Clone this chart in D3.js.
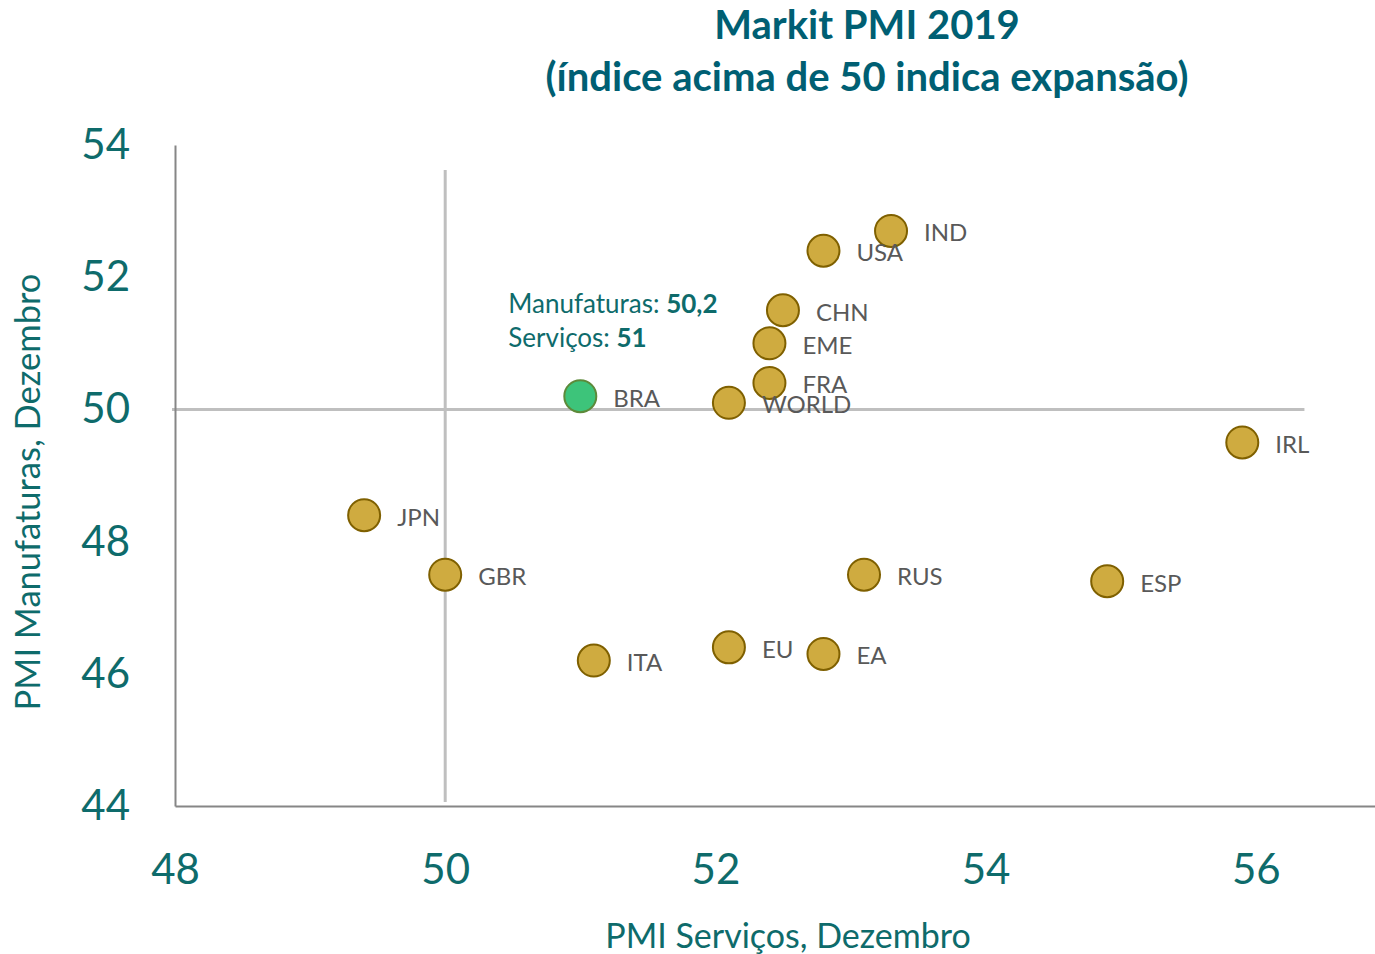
<!DOCTYPE html>
<html>
<head>
<meta charset="utf-8">
<script src="https://cdn.jsdelivr.net/npm/d3@7"></script>
<style>
  body { margin: 0; background: #fff; }
  text { font-family: Lato, "Open Sans", sans-serif; }
</style>
</head>
<body>
<script>
// data
const countries = ["IND", "USA", "CHN", "EME", "FRA", "WORLD", "BRA", "IRL", "JPN", "GBR", "RUS", "ESP", "ITA", "EU", "EA"];
const servicos  = [53.3, 52.8, 52.5, 52.4, 52.4, 52.1, 51.0, 55.9, 49.4, 50.0, 53.1, 54.9, 51.1, 52.1, 52.8];
const manufat   = [52.7, 52.4, 51.5, 51.0, 50.4, 50.1, 50.2, 49.5, 48.4, 47.5, 47.5, 47.4, 46.2, 46.4, 46.3];
const xTicks = [48, 50, 52, 54, 56];
const yTicks = [44, 46, 48, 50, 52, 54];

const data = countries.map((c, i) => ({name: c, x: servicos[i], y: manufat[i]}));

const width = 1375, height = 954;
const margin = {left: 175, right: 0, top: 145, bottom: 148};
const w = width - margin.left - margin.right;
const h = height - margin.top - margin.bottom;

const svg = d3.select("body").append("svg")
    .attr("width", width)
    .attr("height", height);

const g = svg.append("g")
    .attr("transform", "translate(" + margin.left + "," + margin.top + ")");

const x = d3.scaleLinear()
    .domain([48, 48 + w / 135.1])
    .range([0, w]);

const y = d3.scaleLinear()
    .domain([44, 54])
    .range([h, 0]);

// reference lines at 50
g.append("line")
    .attr("x1", x(50)).attr("x2", x(50))
    .attr("y1", 25).attr("y2", h - 4)
    .attr("stroke", "#bfbfbf").attr("stroke-width", 3);

g.append("line")
    .attr("x1", -3).attr("x2", x(56.36))
    .attr("y1", y(50)).attr("y2", y(50))
    .attr("stroke", "#bfbfbf").attr("stroke-width", 3);

// axes
const bottomAxis = d3.axisBottom(x).tickValues(xTicks).tickSize(0).tickPadding(48);
const leftAxis = d3.axisLeft(y).tickValues(yTicks).tickSize(0).tickPadding(45);

const gx = g.append("g")
    .attr("transform", "translate(0," + h + ")")
    .call(bottomAxis);
const gy = g.append("g").call(leftAxis);

[gx, gy].forEach(a => {
    a.select(".domain").attr("stroke", "#868686").attr("stroke-width", 2);
    a.selectAll("text")
        .attr("font-size", "42px")
        .attr("fill", "#0e6b6b")
        .style("font-family", "Lato, 'Open Sans', sans-serif");
});

// points
g.selectAll("circle")
    .data(data)
    .enter()
    .append("circle")
        .attr("cx", d => x(d.x))
        .attr("cy", d => y(d.y))
        .attr("r", 16)
        .attr("fill", d => d.name === "BRA" ? "#3dc47a" : "#cfab40")
        .attr("stroke", d => d.name === "BRA" ? "#5d8a3a" : "#7f6000")
        .attr("stroke-width", 2);

g.selectAll(".lbl")
    .data(data)
    .enter()
    .append("text")
        .attr("class", "lbl")
        .attr("x", d => x(d.x) + 33)
        .attr("y", d => y(d.y) + 2)
        .attr("dy", "0.35em")
        .attr("font-size", "24px")
        .attr("fill", "#595959")
        .text(d => d.name);

// BRA annotation
const ann = g.append("text")
    .attr("x", x(51) - 72)
    .attr("y", y(50.2) - 83)
    .attr("font-size", "26px")
    .attr("fill", "#0e6b6b");
ann.append("tspan").text("Manufaturas: ");
ann.append("tspan").attr("font-weight", "bold").text("50,2");

const ann2 = g.append("text")
    .attr("x", x(51) - 72)
    .attr("y", y(50.2) - 49)
    .attr("font-size", "26px")
    .attr("fill", "#0e6b6b");
ann2.append("tspan").text("Serviços: ");
ann2.append("tspan").attr("font-weight", "bold").text("51");

// titles
svg.append("text")
    .attr("x", 867).attr("y", 39)
    .attr("text-anchor", "middle")
    .attr("font-size", "40px").attr("font-weight", "bold")
    .attr("fill", "#005f73")
    .text("Markit PMI 2019");
svg.append("text")
    .attr("x", 867).attr("y", 91)
    .attr("text-anchor", "middle")
    .attr("font-size", "40px").attr("font-weight", "bold")
    .attr("fill", "#005f73")
    .text("(índice acima de 50 indica expansão)");

svg.append("text")
    .attr("x", 788).attr("y", 948)
    .attr("text-anchor", "middle")
    .attr("font-size", "34px")
    .attr("fill", "#0e6b6b")
    .text("PMI Serviços, Dezembro");

svg.append("text")
    .attr("transform", "translate(40,492) rotate(-90)")
    .attr("text-anchor", "middle")
    .attr("font-size", "34.5px")
    .attr("fill", "#0e6b6b")
    .text("PMI Manufaturas, Dezembro");
</script>
</body>
</html>
